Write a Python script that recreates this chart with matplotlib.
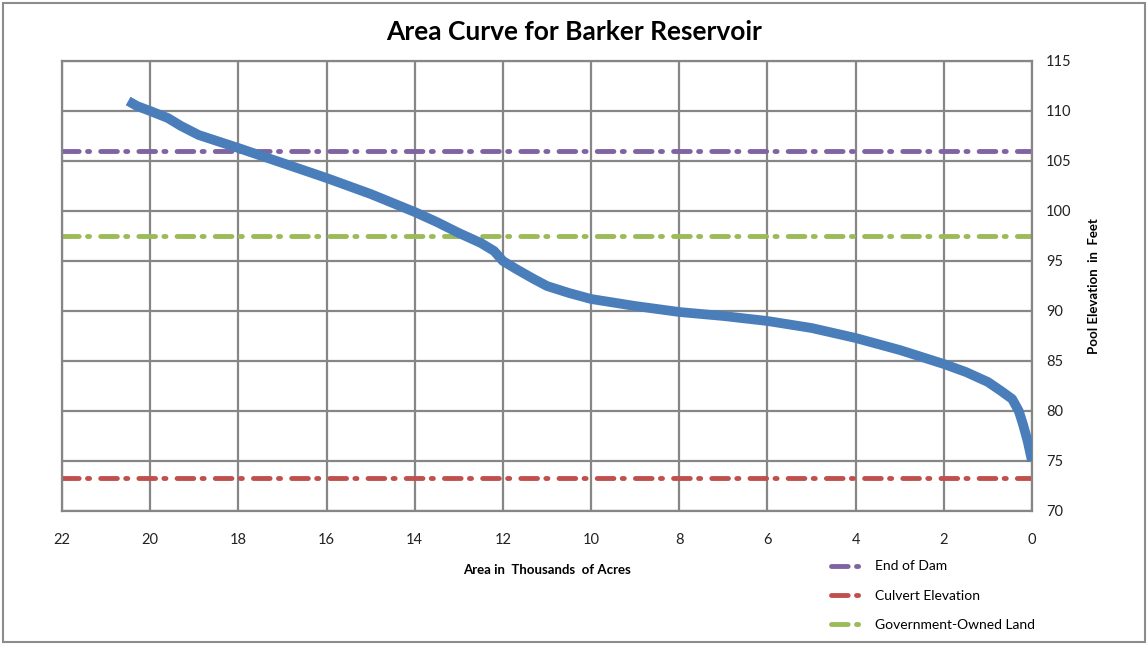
import matplotlib

matplotlib.use("Agg")
import matplotlib.pyplot as plt
from matplotlib.patches import Rectangle

# area (thousands of acres) vs pool elevation (ft)
area = [20.5, 20.3, 20.0, 19.6, 19.3, 18.9, 18.0, 17.0, 16.0, 15.0, 14.0, 13.5, 13.0,
        12.5, 12.2, 12.0, 11.7, 11.3, 11.0, 10.5, 10.0, 9.0, 8.0, 7.0, 6.0, 5.0,
        4.0, 3.0, 2.0, 1.5, 1.0, 0.7, 0.45, 0.3, 0.2, 0.1, 0.05, 0.0]
elevation = [111.0, 110.5, 110.0, 109.3, 108.5, 107.6, 106.3, 104.8, 103.3, 101.7, 99.9,
             98.9, 97.8, 96.8, 96.0, 95.0, 94.2, 93.2, 92.5, 91.8, 91.2, 90.5, 89.9,
             89.5, 89.0, 88.3, 87.3, 86.1, 84.7, 83.9, 82.9, 82.0, 81.2, 80.0, 78.6,
             77.0, 76.0, 75.0]

ref_labels = ["End of Dam", "Culvert Elevation", "Government-Owned Land"]
ref_levels = [106.0, 73.3, 97.5]
ref_colors = ["#8064a2", "#c0504d", "#9bbb59"]

x_ticks = list(range(0, 23, 2))
y_ticks = list(range(70, 116, 5))

plt.rcParams["font.family"] = ["Lato", "DejaVu Sans"]
plt.rcParams["lines.scale_dashes"] = False

fig = plt.figure(figsize=(11.48, 6.45), dpi=100)
fig.patches.append(Rectangle((0.003, 0.004), 0.994, 0.991, transform=fig.transFigure,
                             fill=False, edgecolor="#8c8c8c", linewidth=1.5))
ax = fig.add_axes([62 / 1148, 1 - 511 / 645, 970 / 1148, 450 / 645])

dash = (0, (12, 6, 1.5, 8))
for lbl, lev, col in zip(ref_labels, ref_levels, ref_colors):
    ax.axhline(lev, color=col, linewidth=3.5, linestyle=dash, dash_capstyle="round",
               label=lbl, zorder=2)

ax.plot(area, elevation, color="#4a7ebb", linewidth=7, solid_capstyle="butt",
        solid_joinstyle="round", zorder=3)

ax.set_xlim(22, 0)
ax.set_ylim(70, 115)
ax.set_xticks(x_ticks)
ax.set_yticks(y_ticks)
ax.yaxis.tick_right()
ax.yaxis.set_label_position("right")
ax.tick_params(length=0, labelsize=10.5, colors="#222222")
ax.tick_params(axis="x", pad=16)
ax.tick_params(axis="y", pad=10)
ax.grid(True, color="#868686", linewidth=1.6)
ax.set_axisbelow(True)
for s in ax.spines.values():
    s.set_color("#868686")
    s.set_linewidth(1.6)

ax.set_xlabel("Area in  Thousands  of Acres", fontsize=9.5, fontweight="bold", labelpad=12)
ax.set_ylabel("Pool Elevation  in  Feet", fontsize=9.5, fontweight="bold", labelpad=12)
fig.text(0.5, 0.95, "Area Curve for Barker Reservoir", ha="center", va="center",
         fontsize=19, fontweight="bold")

fig.legend(loc="upper left", bbox_to_anchor=(818 / 1148, 1 - 548 / 645), frameon=False,
           fontsize=10, handlelength=2.2, labelspacing=1.25, handletextpad=1.0)

fig.savefig("out.png", dpi=100)
